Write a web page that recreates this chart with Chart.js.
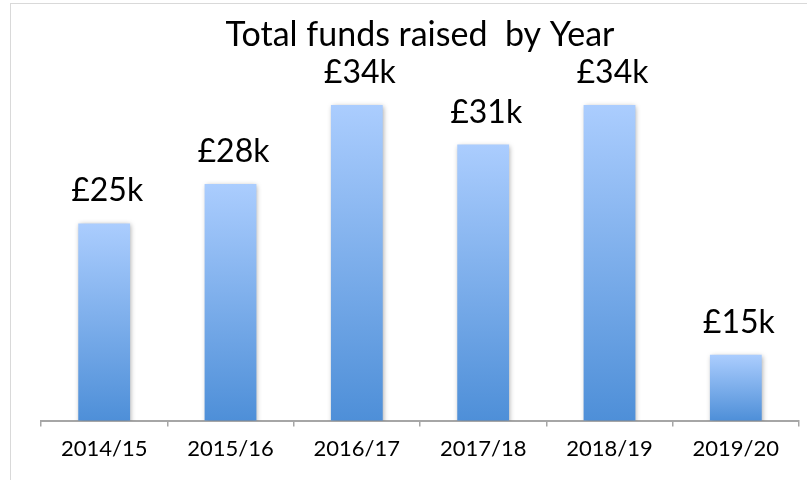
<!DOCTYPE html>
<html>
<head>
<meta charset="utf-8">
<script src="https://cdn.jsdelivr.net/npm/chart.js@4/dist/chart.umd.min.js"></script>
<style>
  html, body { margin: 0; padding: 0; background: #ffffff; overflow: hidden; }
  #frame { position: absolute; left: 10px; top: 3px; width: 800px; height: 500px; border: 1px solid #d9d9d9; box-sizing: border-box; }
  #wrap { position: absolute; left: 0; top: 0; width: 807px; height: 480px; }
</style>
</head>
<body>
<div id="frame"></div>
<div id="wrap"><canvas id="c" width="807" height="480"></canvas></div>
<script>
const categories = ['2014/15', '2015/16', '2016/17', '2017/18', '2018/19', '2019/20'];
const fundsK = [25, 28, 34, 31, 34, 15];
const valueLabels = ['£25k', '£28k', '£34k', '£31k', '£34k', '£15k'];
const titleText = 'Total funds raised  by Year';

const FONT = 'Lato, "Open Sans", sans-serif';

function barGradient(ctx) {
  const chart = ctx.chart;
  if (!chart.chartArea || ctx.type !== 'data') return '#7aaeea';
  const y = chart.scales.y;
  const top = y.getPixelForValue(ctx.raw);
  const base = y.getBasePixel();
  if (!isFinite(top) || !isFinite(base) || top === base) return '#7aaeea';
  const g = chart.ctx.createLinearGradient(0, top, 0, base);
  g.addColorStop(0, '#abcdfe');
  g.addColorStop(1, '#4e8fd8');
  return g;
}

const shadowPlugin = {
  id: 'barShadow',
  beforeDatasetsDraw(chart) {
    const c = chart.ctx;
    c.save();
    c.shadowColor = 'rgba(0,0,0,0.35)';
    c.shadowBlur = 5;
    c.shadowOffsetX = 1;
    c.shadowOffsetY = 1;
  },
  afterDatasetsDraw(chart) {
    chart.ctx.restore();
  }
};

const labelPlugin = {
  id: 'valueLabels',
  afterDatasetsDraw(chart) {
    const c = chart.ctx;
    const meta = chart.getDatasetMeta(0);
    c.save();
    c.font = '32px ' + FONT;
    c.fillStyle = '#000000';
    c.textAlign = 'center';
    c.textBaseline = 'alphabetic';
    meta.data.forEach((el, i) => {
      c.fillText(valueLabels[i], el.x + 3, el.y - 22);
    });
    c.restore();
  }
};

new Chart(document.getElementById('c'), {
  type: 'bar',
  data: {
    labels: categories,
    datasets: [{
      data: fundsK,
      backgroundColor: barGradient,
      borderWidth: 0,
      categoryPercentage: 1.0,
      barPercentage: 0.41
    }]
  },
  options: {
    responsive: false,
    animation: false,
    devicePixelRatio: 1,
    layout: { padding: { left: 41, right: 8, top: 0, bottom: 9 } },
    plugins: {
      legend: { display: false },
      tooltip: { enabled: false },
      title: {
        display: true,
        text: titleText,
        color: '#000000',
        font: { family: FONT, size: 34, weight: 'normal', lineHeight: 1.2 },
        padding: { top: 15, bottom: 0 }
      }
    },
    scales: {
      y: {
        display: false,
        min: 10,
        max: 37.75
      },
      x: {
        grid: {
          display: true,
          offset: true,
          drawOnChartArea: false,
          drawTicks: true,
          tickLength: 6,
          color: '#a6a6a6',
          lineWidth: 1.5
        },
        border: { display: true, color: '#a6a6a6', width: 2 },
        ticks: {
          color: '#000000',
          font: { family: FONT, size: 22, lineHeight: 1.2 },
          padding: 9,
          maxRotation: 0
        }
      }
    }
  },
  plugins: [shadowPlugin, labelPlugin]
});
</script>
</body>
</html>
